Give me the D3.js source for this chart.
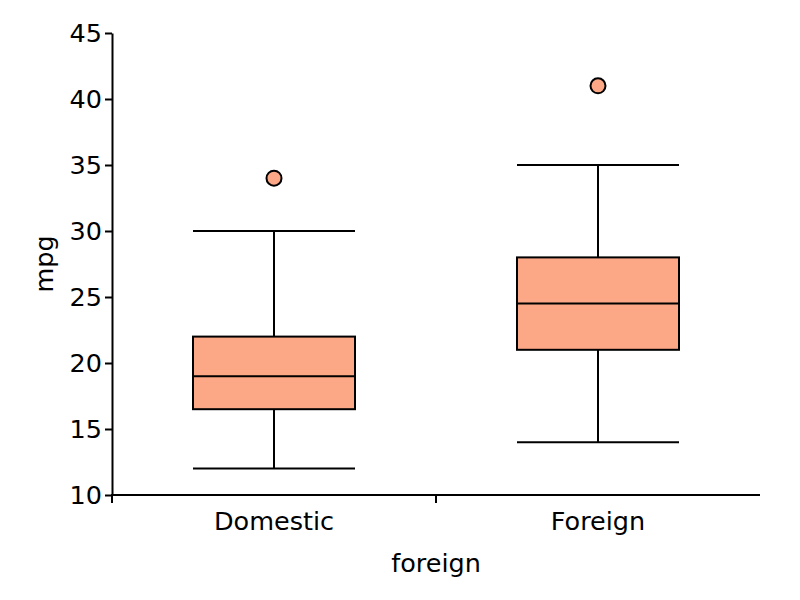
<!DOCTYPE html>
<html>
<head>
<meta charset="utf-8">
<script src="https://cdn.jsdelivr.net/npm/d3@7"></script>
<style>
  body { margin: 0; background: #fff; }
  text { font-family: "DejaVu Sans", Verdana, sans-serif; }
</style>
</head>
<body>
<div id="content"></div>
<script>
// data
var groups = ["Domestic", "Foreign"];
var lowWhisker = [12, 14];
var q1 = [16.5, 21];
var medians = [19, 24.5];
var q3 = [22, 28];
var highWhisker = [30, 35];
var outliers = [[34], [41]];
var yTicks = [10, 15, 20, 25, 30, 35, 40, 45];

var width = 800, height = 600;
var plot_left = 112, plot_right = 760, plot_top = 33, plot_bottom = 495;
var fill = "#fca887";
var font_size = 25.5;

var svg = d3.select("#content")
  .append("svg")
  .attr("width", width)
  .attr("height", height);

var x = d3.scaleBand()
  .domain(groups)
  .range([plot_left, plot_right]);

var y = d3.scaleLinear()
  .domain([10, 45])
  .range([plot_bottom, plot_top]);

// y axis
var yAxis = svg.append("g")
  .attr("transform", "translate(" + plot_left + ",0)")
  .call(d3.axisLeft(y).tickValues(yTicks).tickSize(7).tickPadding(3).tickSizeOuter(0));
yAxis.select(".domain").attr("stroke", "#000").attr("stroke-width", 2);
yAxis.selectAll(".tick line").attr("stroke", "#000").attr("stroke-width", 2);
yAxis.selectAll(".tick text")
  .attr("font-family", "DejaVu Sans")
  .attr("font-size", font_size + "px")
  .attr("fill", "#000");

// x axis: ticks sit at the band edges
var xAxis = svg.append("g")
  .attr("transform", "translate(0," + plot_bottom + ")");
xAxis.append("line")
  .attr("x1", plot_left - 1)
  .attr("x2", plot_right)
  .attr("stroke", "#000")
  .attr("stroke-width", 2);
xAxis.selectAll("line.edge")
  .data(groups)
  .enter().append("line")
  .attr("class", "edge")
  .attr("x1", function(d) { return x(d); })
  .attr("x2", function(d) { return x(d); })
  .attr("y1", 0)
  .attr("y2", 8)
  .attr("stroke", "#000")
  .attr("stroke-width", 2);
xAxis.selectAll("text")
  .data(groups)
  .enter().append("text")
  .attr("x", function(d) { return x(d) + x.bandwidth() / 2; })
  .attr("y", 35)
  .attr("text-anchor", "middle")
  .attr("font-size", font_size + "px")
  .text(function(d) { return d; });

// axis titles
svg.append("text")
  .attr("transform", "translate(53," + ((plot_top + plot_bottom) / 2) + ") rotate(-90)")
  .attr("text-anchor", "middle")
  .attr("font-size", font_size + "px")
  .text("mpg");

svg.append("text")
  .attr("x", (plot_left + plot_right) / 2)
  .attr("y", 572)
  .attr("text-anchor", "middle")
  .attr("font-size", font_size + "px")
  .text("foreign");

// boxes
var boxW = x.bandwidth() / 2;
groups.forEach(function(g, i) {
  var cx = x(g) + x.bandwidth() / 2;
  var b = svg.append("g");

  // whiskers
  b.append("line")
    .attr("x1", cx).attr("x2", cx)
    .attr("y1", y(lowWhisker[i])).attr("y2", y(highWhisker[i]))
    .attr("stroke", "#000").attr("stroke-width", 2);
  [lowWhisker[i], highWhisker[i]].forEach(function(v) {
    b.append("line")
      .attr("x1", cx - boxW / 2).attr("x2", cx + boxW / 2)
      .attr("y1", y(v)).attr("y2", y(v))
      .attr("stroke", "#000").attr("stroke-width", 2);
  });

  b.append("rect")
    .attr("x", cx - boxW / 2)
    .attr("y", y(q3[i]))
    .attr("width", boxW)
    .attr("height", y(q1[i]) - y(q3[i]))
    .attr("fill", fill)
    .attr("stroke", "#000")
    .attr("stroke-width", 2);

  b.append("line")
    .attr("x1", cx - boxW / 2).attr("x2", cx + boxW / 2)
    .attr("y1", y(medians[i])).attr("y2", y(medians[i]))
    .attr("stroke", "#000").attr("stroke-width", 2);

  b.selectAll("circle")
    .data(outliers[i])
    .enter().append("circle")
    .attr("cx", cx)
    .attr("cy", function(d) { return y(d); })
    .attr("r", 7.5)
    .attr("fill", fill)
    .attr("stroke", "#000")
    .attr("stroke-width", 2);
});
</script>
</body>
</html>
